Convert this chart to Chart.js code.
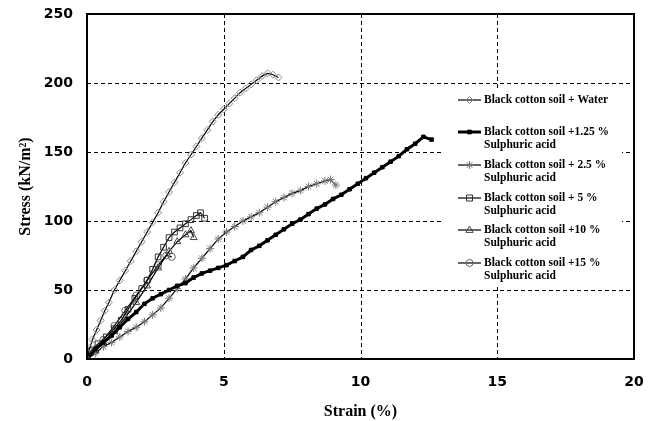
<!DOCTYPE html>
<html><head><meta charset="utf-8">
<script src="https://cdn.jsdelivr.net/npm/chart.js@4/dist/chart.umd.min.js"></script>
<style>html,body{margin:0;padding:0;background:#fff}#wrap{width:654px;height:421px}</style>
</head><body><div id="wrap"><canvas id="c" width="654" height="421"></canvas></div>
<script>
// ---- data ----
const xTicks = [0, 5, 10, 15, 20];
const yTicks = [0, 50, 100, 150, 200, 250];

const waterStrain = [0,0.1,0.2,0.35,0.5,0.65,0.8,1.0,1.2,1.4,1.6,1.8,2.0,2.2,2.4,2.6,2.8,3.0,3.2,3.4,3.6,3.8,4.0,4.2,4.4,4.6,4.8,5.0,5.2,5.4,5.6,5.8,6.0,6.2,6.4,6.6,6.8,7.0];
const waterStress = [0,8,14,21,28,35,41,50,57,64,71,78,85,92,99,106,114,121,128,135,142,148,154,160,166,172,177,181,185,189,193,196,199,202,205,207,206,204];

const acid125Strain = [0,0.3,0.6,0.9,1.2,1.5,1.8,2.1,2.4,2.7,3.0,3.3,3.6,3.9,4.2,4.5,4.8,5.1,5.4,5.7,6.0,6.3,6.6,6.9,7.2,7.5,7.8,8.1,8.4,8.7,9.0,9.3,9.6,9.9,10.2,10.5,10.8,11.1,11.4,11.7,12.0,12.3,12.6];
const acid125Stress = [0,7,12,17,23,29,34,40,44,47,50,53,55,59,62,64,66,68,71,74,79,82,86,90,94,98,101,105,109,112,116,119,123,127,131,135,139,143,147,152,156,161,159];

const acid25Strain = [0,0.3,0.6,0.9,1.2,1.5,1.8,2.1,2.4,2.7,3.0,3.3,3.6,3.9,4.2,4.5,4.8,5.1,5.4,5.7,6.0,6.3,6.6,6.9,7.2,7.5,7.8,8.1,8.4,8.7,8.9,9.1];
const acid25Stress = [0,4,9,12,16,20,23,27,32,37,44,51,58,66,73,80,87,92,96,100,103,106,110,114,117,120,122,125,127,129,130,126];

const acid5Strain = [0,0.15,0.4,0.7,1.0,1.25,1.5,1.75,2.0,2.2,2.4,2.6,2.8,3.0,3.2,3.4,3.6,3.8,4.0,4.15,4.3];
const acid5Stress = [0,6,11,16,22,28,36,44,51,57,65,74,81,88,92,95,98,101,104,106,102];

const acid10Strain = [0,0.3,0.6,1.0,1.4,1.8,2.2,2.6,3.0,3.3,3.6,3.8,3.9];
const acid10Stress = [0,6,12,20,30,41,53,66,78,85,90,93,88];

const acid15Strain = [0,0.3,0.6,1.0,1.4,1.8,2.2,2.6,2.9,3.1];
const acid15Stress = [0,7,14,24,35,46,57,68,75,74];

const seriesNames = [
  ['Black cotton soil + Water'],
  ['Black cotton soil +1.25 %', 'Sulphuric acid'],
  ['Black cotton soil + 2.5 %', 'Sulphuric acid'],
  ['Black cotton soil + 5 %', 'Sulphuric acid'],
  ['Black cotton soil +10 %', 'Sulphuric acid'],
  ['Black cotton soil +15 %', 'Sulphuric acid']
];

const zip = (xs, ys) => xs.map((x, i) => ({x, y: ys[i]}));
const serif = '"Liberation Serif", "Times New Roman", serif';
const sans = '"DejaVu Sans", Verdana, sans-serif';

const datasets = [
  {label: seriesNames[0].join(' '), data: zip(waterStrain, waterStress), borderColor:'#000', borderWidth:1.2,
   pointStyle:'rectRot', pointRadius:3.5, pointBorderColor:'#888', pointBackgroundColor:'rgba(0,0,0,0)', pointBorderWidth:1},
  {label: seriesNames[1].join(' '), data: zip(acid125Strain, acid125Stress), borderColor:'#000', borderWidth:3,
   pointStyle:'rect', pointRadius:2.5, pointBorderColor:'#000', pointBackgroundColor:'#000', pointBorderWidth:1},
  {label: seriesNames[2].join(' '), data: zip(acid25Strain, acid25Stress), borderColor:'#000', borderWidth:1.2,
   pointStyle:'star', pointRadius:4, pointBorderColor:'#777', pointBackgroundColor:'rgba(0,0,0,0)', pointBorderWidth:1},
  {label: seriesNames[3].join(' '), data: zip(acid5Strain, acid5Stress), borderColor:'#000', borderWidth:1.2,
   pointStyle:'rect', pointRadius:4, pointBorderColor:'#333', pointBackgroundColor:'rgba(0,0,0,0)', pointBorderWidth:1},
  {label: seriesNames[4].join(' '), data: zip(acid10Strain, acid10Stress), borderColor:'#000', borderWidth:1.2,
   pointStyle:'triangle', pointRadius:4, pointBorderColor:'#444', pointBackgroundColor:'rgba(0,0,0,0)', pointBorderWidth:1},
  {label: seriesNames[5].join(' '), data: zip(acid15Strain, acid15Stress), borderColor:'#000', borderWidth:1.2,
   pointStyle:'circle', pointRadius:3.5, pointBorderColor:'#666', pointBackgroundColor:'rgba(0,0,0,0)', pointBorderWidth:1}
];

function drawMarker(ctx, style, x, y, r) {
  ctx.beginPath();
  if (style === 'rectRot') { ctx.moveTo(x, y-r); ctx.lineTo(x+r, y); ctx.lineTo(x, y+r); ctx.lineTo(x-r, y); ctx.closePath(); }
  else if (style === 'rect') { ctx.rect(x-r*0.75, y-r*0.75, r*1.5, r*1.5); }
  else if (style === 'triangle') { ctx.moveTo(x, y-r); ctx.lineTo(x+r*0.9, y+r*0.6); ctx.lineTo(x-r*0.9, y+r*0.6); ctx.closePath(); }
  else if (style === 'circle') { ctx.arc(x, y, r, 0, Math.PI*2); }
  else if (style === 'star') {
    for (let k = 0; k < 4; k++) { const a = k*Math.PI/4; ctx.moveTo(x - r*Math.cos(a), y - r*Math.sin(a)); ctx.lineTo(x + r*Math.cos(a), y + r*Math.sin(a)); }
  }
}

const gridPlugin = {
  id: 'dashedGrid',
  beforeDatasetsDraw(chart) {
    const ctx = chart.ctx, a = chart.chartArea, sx = chart.scales.x, sy = chart.scales.y;
    ctx.save();
    ctx.strokeStyle = '#000';
    ctx.lineWidth = 1;
    ctx.setLineDash([4, 3]);
    xTicks.slice(1, -1).forEach(v => {
      const px = Math.round(sx.getPixelForValue(v)) + 0.5;
      ctx.beginPath(); ctx.moveTo(px, a.top); ctx.lineTo(px, a.bottom); ctx.stroke();
    });
    yTicks.slice(1, -1).forEach(v => {
      const py = Math.round(sy.getPixelForValue(v)) + 0.5;
      ctx.beginPath(); ctx.moveTo(a.left, py); ctx.lineTo(a.right, py); ctx.stroke();
    });
    ctx.restore();
  }
};

const framePlugin = {
  id: 'frameAndLegend',
  afterDraw(chart) {
    const ctx = chart.ctx, a = chart.chartArea;
    ctx.save();
    // legend box (covers gridlines)
    const bx = 441, by = 89, bw = 181, bh = 196;
    ctx.fillStyle = '#fff';
    ctx.fillRect(bx, by, bw, bh);
    const rows = [100, 132, 165, 198, 230, 263];
    ctx.font = 'bold 11.5px ' + serif;
    ctx.textBaseline = 'middle';
    ctx.fillStyle = '#000';
    chart.data.datasets.forEach((ds, i) => {
      const y = rows[i];
      ctx.strokeStyle = '#000';
      ctx.lineWidth = ds.borderWidth;
      ctx.beginPath(); ctx.moveTo(458, y); ctx.lineTo(481, y); ctx.stroke();
      ctx.lineWidth = 1;
      ctx.strokeStyle = ds.pointBorderColor;
      drawMarker(ctx, ds.pointStyle, 469.5, y, ds.pointRadius);
      if (ds.pointBackgroundColor === '#000') { ctx.fillStyle = '#000'; ctx.fill(); }
      ctx.stroke();
      ctx.fillStyle = '#000';
      seriesNames[i].forEach((t, j) => ctx.fillText(t, 484, y + j*13));
    });
    // frame
    ctx.strokeStyle = '#000';
    ctx.lineWidth = 2;
    ctx.strokeRect(a.left, a.top, a.right - a.left, a.bottom - a.top);
    ctx.restore();
  }
};

new Chart(document.getElementById('c'), {
  type: 'line',
  data: { datasets },
  options: {
    responsive: false,
    animation: false,
    events: [],
    layout: { padding: { top: 14, right: 20, left: 16, bottom: 0 } },
    plugins: { legend: { display: false }, tooltip: { enabled: false } },
    elements: { line: { tension: 0 } },
    scales: {
      x: {
        type: 'linear', min: 0, max: 20,
        afterBuildTicks: s => { s.ticks = xTicks.map(v => ({value: v})); },
        afterFit: s => { s.height = 62; s.paddingRight = 0; s.paddingLeft = 0; },
        grid: { display: false, drawTicks: false },
        border: { display: false },
        ticks: { color: '#000', font: { family: sans, size: 14, weight: 'bold' }, padding: 15, maxRotation: 0 },
        title: { display: true, text: 'Strain (%)', color: '#000', font: { family: serif, size: 16, weight: 'bold' }, padding: { top: 2, bottom: 0 } }
      },
      y: {
        type: 'linear', min: 0, max: 250,
        afterBuildTicks: s => { s.ticks = yTicks.map(v => ({value: v})); },
        afterFit: s => { s.width = 71; s.paddingTop = 0; s.paddingBottom = 0; },
        grid: { display: false, drawTicks: false },
        border: { display: false },
        ticks: { color: '#000', font: { family: sans, size: 14, weight: 'bold' }, padding: 14 },
        title: { display: true, text: 'Stress (kN/m²)', color: '#000', font: { family: serif, size: 16, weight: 'bold' }, padding: { top: 0, bottom: 4 } }
      }
    }
  },
  plugins: [gridPlugin, framePlugin]
});
</script>
</body></html>
